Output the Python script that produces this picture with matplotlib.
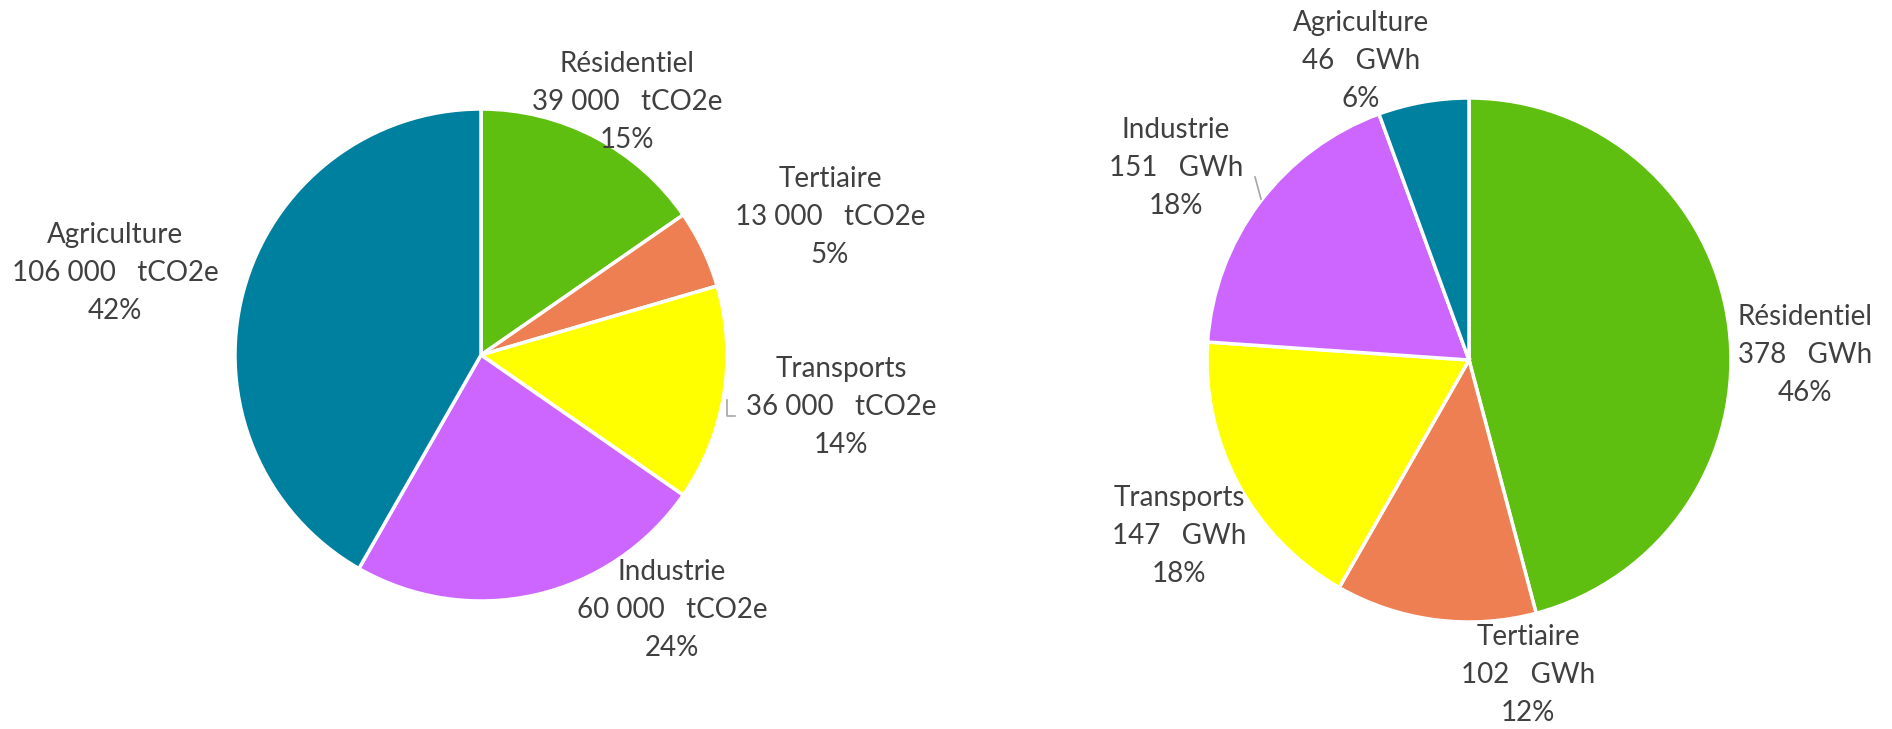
import matplotlib.pyplot as plt

# Data
sectors = ['Résidentiel', 'Tertiaire', 'Transports', 'Industrie', 'Agriculture']
colors = ['#5FBF10', '#ED7F52', '#FFFF00', '#CC66FF', '#00809F']

ges_values = [39000, 13000, 36000, 60000, 106000]   # tCO2e
energy_values = [378, 102, 147, 151, 46]             # GWh

# Layout (image pixel coordinates, y from top)
H = 729
left_center, left_radius = (481, 355), 246
right_center, right_radius = (1469, 360), 262
left_label_pos = [(627, 102), (830, 217), (841, 407), (672, 610), (115, 273)]
right_label_pos = [(1805, 355), (1528, 675), (1179, 536), (1176, 168), (1361, 61)]

text_color = '#404040'
plt.rcParams['font.family'] = ['Lato', 'DejaVu Sans']

fig = plt.figure(figsize=(18.92, 7.29), dpi=100)
ax = fig.add_axes([0, 0, 1, 1])


def fmt(v):
    return f'{v:,}'.replace(',', ' ')


def draw_pie(values, center, radius, label_pos, unit):
    ax.pie(values, colors=colors, startangle=90, counterclock=False,
           center=(center[0], H - center[1]), radius=radius,
           wedgeprops=dict(edgecolor='white', linewidth=2.5), frame=True)
    total = sum(values)
    for name, v, (x, y) in zip(sectors, values, label_pos):
        txt = f'{name}\n{fmt(v)}   {unit}\n{round(v / total * 100)}%'
        ax.text(x, H - y, txt, ha='center', va='center', multialignment='center',
                fontsize=20, color=text_color, linespacing=1.58)


draw_pie(ges_values, left_center, left_radius, left_label_pos, 'tCO2e')
draw_pie(energy_values, right_center, right_radius, right_label_pos, 'GWh')

# leader lines
ax.plot([727, 727, 735], [H - 400, H - 416, H - 416], color='#A6A6A6', lw=1.2)
ax.plot([1255, 1261], [H - 177, H - 199], color='#A6A6A6', lw=1.2)

ax.set_xlim(0, 1892)
ax.set_ylim(0, H)
ax.set_aspect('equal')
ax.axis('off')

plt.savefig('out.png', dpi=100)
